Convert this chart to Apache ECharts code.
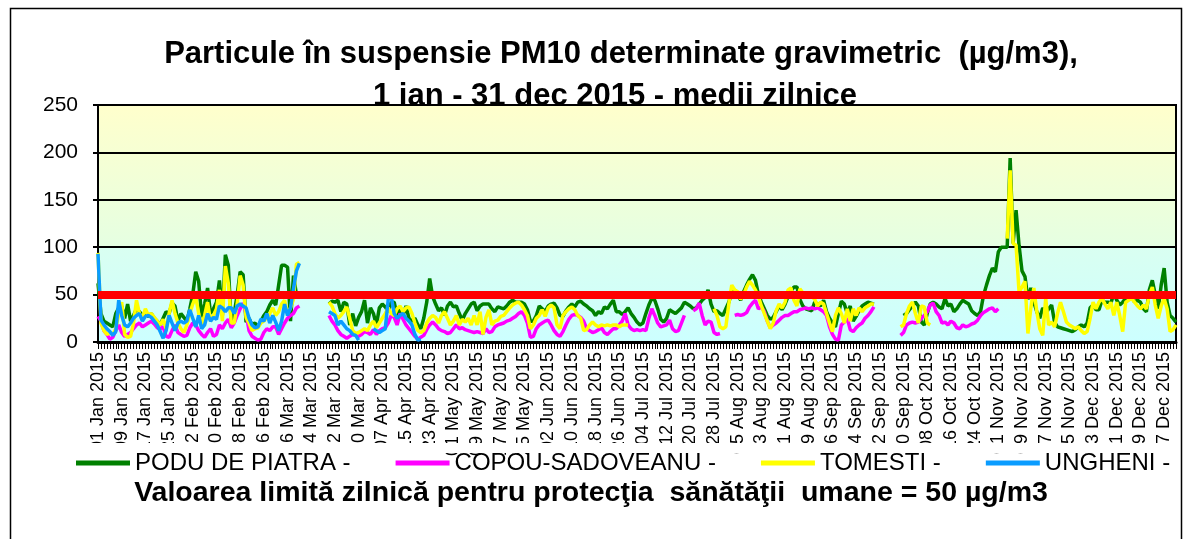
<!DOCTYPE html>
<html>
<head>
<meta charset="utf-8">
<title>PM10 gravimetric 2015</title>
<script src="https://cdn.jsdelivr.net/npm/echarts@6/dist/echarts.min.js"></script>
<style>
  html, body { margin: 0; padding: 0; background: #fff; }
  #main { width: 1192px; height: 539px; }
</style>
</head>
<body>
<div id="main"></div>
<script>
// categorii: zilele anului 2015
var monthNames = ['Jan', 'Feb', 'Mar', 'Apr', 'May', 'Jun', 'Jul', 'Aug', 'Sep', 'Oct', 'Nov', 'Dec']
var monthDays = [31, 28, 31, 30, 31, 30, 31, 31, 30, 31, 30, 31]
var dates = []
monthNames.forEach(function (m, i) {
  for (var d = 1; d <= monthDays[i]; d++) {
    dates.push((d < 10 ? '0' : '') + d + ' ' + m + ' 2015')
  }
})

var seriesNames = ['PODU DE PIATRA -', 'COPOU-SADOVEANU -', 'TOMESTI -', 'UNGHENI -']
var seriesColors = ['#008000', '#ff00ff', '#ffff00', '#0a9cff']
var yTicks = [0, 50, 100, 150, 200, 250]
var limitValue = 50

var titleLines = [
  'Particule în suspensie PM10 determinate gravimetric  (µg/m3),',
  '1 ian - 31 dec 2015 - medii zilnice'
]
var footnote = 'Valoarea limită zilnică pentru protecţia  sănătăţii  umane = 50 µg/m3'

// PODU DE PIATRA
var poduDePiatra = [
  62, 30, 22, 20, 18, 16, 30, 36, 38, 25,
  40, 22, 28, 35, 32, 28, 30, 27, 30, 25,
  22, 18, 25, 32, 30, 41, 38, 22, 30, 26,
  22, 35, 50, 74, 64, 26, 40, 57, 30, 35,
  42, 65, 28, 92, 81, 18, 30, 50, 74, 71,
  21, 25, 18, 20, 16, 22, 28, 32, 39, 44,
  39, 60, 81, 81, 79, 22, 70, 50, null, null,
  null, null, null, null, null, null, null, null, 40, 43,
  42, 44, 32, 42, 40, 18, 30, 17, 26, 32,
  44, 20, 36, 30, 18, 36, 40, 37, 32, 42,
  42, 28, 35, 28, 38, 25, 22, 25, 18, 14,
  25, 42, 67, 48, 40, 33, 36, 28, 38, 42,
  37, 38, 30, 23, 30, 35, 40, 42, 33, 38,
  40, 40, 40, 35, 32, 37, 36, 35, 38, 42,
  44, 42, 42, 42, 40, 34, 22, 22, 28, 38,
  35, 32, 38, 40, 41, 36, 28, 27, 33, 37,
  40, 37, 42, 43, 40, 38, 35, 33, 28, 32,
  30, 37, 35, 40, 44, 32, 32, 29, 32, 36,
  30, 26, 21, 18, 20, 30, 39, 46, 44, 35,
  24, 21, 25, 34, 32, 30, 33, 36, 42, 40,
  38, 35, 36, 40, 44, 47, 55, 40, 32, 33,
  30, 28, 35, 42, 52, 55, 50, 44, 53, 60,
  66, 71, 65, 50, 42, 35, 28, 24, 26, 32,
  38, 34, 40, 48, 54, 58, 58, 45, 38, 35,
  34, 33, 42, 40, 38, 44, 32, 25, 20, 16,
  30, 43, 40, 30, 38, 22, 27, 33, 38, 40,
  42, 41, 40, null, null, null, null, null, null, null,
  null, null, 28, 30, 34, 38, 42, 38, 21, 18,
  30, 40, 42, 40, 37, 35, 46, 38, 40, 32,
  35, 40, 44, 42, 40, 33, 30, 28, 32, 49,
  60, 70, 78, 74, 95, 100, 100, 100, 194, 104,
  139, 102, 75, 69, 45, 57, 42, 32, 25, 36,
  30, 35, 39, 21, 16, 15, 14, 13, 12, 11,
  13, 16, 18, 16, 20, 36, 39, 34, 34, 44,
  42, 42, 41, 51, 44, 39, 42, 46, 46, 51,
  42, 44, 42, 35, 32, 55, 65, 50, 35, 60,
  78, 42, 28, 25, 21
]

// COPOU-SADOVEANU
var copouSadoveanu = [
  27, 22, 12, 8, 3, 5, 12, 18, 10, 6,
  8, 10, 14, 18, 20, 16, 18, 20, 22, 19,
  15, 14, 16, 6, 5, 12, 18, 10, 8, 6,
  7, 15, 20, 18, 12, 8, 5, 10, 14, 6,
  8, 18, 14, 20, 24, 15, 20, 28, 35, 41,
  30, 12, 6, 4, 2, 3, 10, 14, 12, 16,
  16, 8, 14, 20, 25, 28, 30, 36, 38, null,
  null, null, null, null, null, null, null, null, 28, 22,
  18, 12, 8, 6, 4, 6, 8, 7, 6, 8,
  11, 10, 8, 13, 8, 12, 14, 15, 20, 28,
  26, 18, 30, 24, 18, 14, 10, 6, 3, 5,
  7, 13, 18, 21, 18, 14, 12, 11, 9, 10,
  14, 18, 14, 15, 13, 12, 11, 10, 11, 10,
  9, 14, 10, 11, 16, 18, 19, 20, 22, 23,
  25, 27, 30, 32, 28, 20, 5, 6, 14, 18,
  20, 22, 23, 18, 12, 8, 6, 11, 18, 24,
  28, 29, 28, 26, 22, 14, 12, 10, 11, 13,
  15, 10, 8, 11, 14, 14, 18, 22, 30, 18,
  14, 12, 13, 12, 13, 12, 25, 35, 28, 20,
  16, 17, 18, 23, 14, 11, 12, 20, 28, null,
  null, 33, 35, 41, 28, 18, 22, 21, 10, 8,
  9, null, null, null, null, 28, 29, 28, 29, 31,
  37, 41, 44, 35, 37, 32, 22, 15, 18, 20,
  23, 26, 28, 28, 30, 32, 32, 34, 35, 36,
  35, 36, 35, 36, 34, 32, 28, 16, 8, 3,
  2, 18, 21, 25, 13, 11, 15, 18, 20, 25,
  28, 32, 37, null, null, null, null, null, null, null,
  null, 7, 10, 18, 20, 21, 20, 21, 25, 28,
  32, 39, 41, 32, 28, 20, 21, 18, 22, 20,
  15, 14, 18, 16, 17, 19, 20, 23, 28, 31,
  33, 35, 36, 32, 35
]

// TOMESTI
var tomesti = [
  94, 20, 12, 8, 10, 8, 14, 30, 42, 8,
  5, 6, 20, 44, 30, 25, 35, 28, 30, 26,
  22, 18, 24, 14, 30, 44, 30, 20, 14, 10,
  18, 30, 40, 48, 30, 18, 28, 42, 22, 28,
  35, 55, 22, 80, 62, 20, 20, 40, 70, 60,
  26, 20, 12, 14, 15, 20, 22, 26, 30, 36,
  28, 32, 40, 44, 30, 36, 45, 82, 84, null,
  null, null, null, null, null, null, null, null, 42, 38,
  30, 25, 28, 32, 37, 25, 12, 9, 10, 12,
  14, 12, 18, 22, 15, 20, 25, 30, 36, 30,
  28, 35, 38, 32, 36, 37, 30, 20, 12, 10,
  12, 20, 25, 28, 26, 20, 28, 32, 25, 18,
  22, 28, 18, 24, 21, 25, 18, 28, 18, 32,
  8, 26, 34, 18, 22, 23, 27, 28, 32, 36,
  39, 41, 42, 39, 34, 28, 14, 18, 25, 28,
  34, 27, 36, 39, 36, 18, 14, 28, 32, 35,
  37, 34, 28, 25, 12, 13, 18, 21, 18, 16,
  18, 17, 18, 17, 18, 18, 16, 18, 18, 18,
  null, null, null, null, null, null, null, null, null, null,
  null, null, null, null, null, null, null, null, null, null,
  null, null, null, null, null, null, null, null, 35, 28,
  16, 14, 16, 40, 60, 55, 53, 45, 50, 58,
  64, 60, 55, 48, 38, 30, 22, 14, 20, 33,
  40, 36, 42, 55, 57, 44, 38, 56, 52, 50,
  52, 48, 45, 38, 42, 40, 30, 20, 11, 28,
  36, 30, 20, 35, 22, 35, 28, 36, 32, 36,
  38, 40, 40, null, null, null, null, null, null, null,
  null, 16, 18, 30, 38, 42, 30, 20, 38, 37,
  20, 18, null, null, null, null, null, null, null, null,
  null, null, null, null, null, null, null, null, null, null,
  null, null, null, null, null, null, null, 109, 181, 104,
  102, 53, 58, 64, 9, 36, 57, 32, 14, 7,
  46, 18, 21, 16, 30, 42, 32, 21, 18, 16,
  14, 16, 12, 9, 11, 25, 42, 35, 42, 46,
  40, 35, 42, 28, 42, 28, 11, 42, 44, 46,
  42, 38, 35, 39, 35, 50, 58, 39, 25, 38,
  46, 35, 11, 13, 18
]

// UNGHENI (date doar ian - apr)
var ungheni = [
  93, 23, 18, 14, 11, 7, 11, 44, 28, 18,
  16, 20, 25, 28, 30, 22, 27, 28, 26, 22,
  18, 11, 4, 12, 28, 20, 12, 20, 22, 20,
  22, 34, 25, 16, 28, 14, 18, 30, 22, 26,
  24, 38, 36, 32, 36, 36, 30, 38, 40, 38,
  36, 25, 18, 15, 16, 24, 22, 30, 20, 28,
  21, 12, 22, 40, 28, 36, 56, 75, 83, null,
  null, null, null, null, null, null, null, null, 32, 30,
  28, 18, 22, 18, 14, 12, 8, 7, 2, null,
  null, null, null, 14, 12, 10, 12, 14, 45, 48,
  30, 25, 28, 30, 25, 22, 18, 8, 2, 3
]

var seriesData = [poduDePiatra, copouSadoveanu, tomesti, ungheni]
var font = 'Liberation Sans, Arial, sans-serif'

var myChart = echarts.init(document.getElementById('main'))

var lineSeries = seriesData.map(function (arr, i) {
  return {
    name: seriesNames[i],
    type: 'line',
    data: arr,
    z: 3,
    symbol: 'none',
    showSymbol: false,
    connectNulls: false,
    lineStyle: { color: seriesColors[i], width: 3.5 },
    itemStyle: { color: seriesColors[i] },
    emphasis: { disabled: true }
  }
})

myChart.setOption({
  animation: false,
  backgroundColor: '#fff',
  title: [
    {
      text: titleLines[0], left: 621, top: 39, textAlign: 'center', padding: 0, z: 0,
      textStyle: { fontFamily: font, fontSize: 31, fontWeight: 'bold', color: '#000', lineHeight: 31 }
    },
    {
      text: titleLines[1], left: 615, top: 81, textAlign: 'center', padding: 0, z: 0,
      textStyle: { fontFamily: font, fontSize: 31, fontWeight: 'bold', color: '#000', lineHeight: 31 }
    },
    {
      text: footnote, left: 591, top: 479, textAlign: 'center', padding: 0,
      textStyle: { fontFamily: font, fontSize: 28.5, fontWeight: 'bold', color: '#000', lineHeight: 29 }
    }
  ],
  legend: {
    data: seriesNames,
    left: 76,
    top: 451,
    padding: 0,
    icon: 'rect',
    itemWidth: 54,
    itemHeight: 5,
    itemGap: 45,
    selectedMode: false,
    textStyle: { fontFamily: font, fontSize: 24, color: '#000' }
  },
  grid: {
    left: 98, right: 16, top: 105, bottom: 197,
    show: true, z: 2,
    borderColor: '#000', borderWidth: 2,
    backgroundColor: 'transparent'
  },
  xAxis: {
    type: 'category',
    data: dates,
    boundaryGap: false,
    z: 2,
    axisLine: { lineStyle: { color: '#000', width: 3 } },
    axisTick: { interval: 0, length: 7, lineStyle: { color: '#000', width: 1 } },
    axisLabel: {
      interval: 7, rotate: 90, margin: 10,
      fontFamily: font, fontSize: 18, color: '#000'
    },
    splitLine: { show: false }
  },
  yAxis: {
    type: 'value',
    min: yTicks[0],
    max: yTicks[yTicks.length - 1],
    interval: 50,
    z: 2,
    axisLine: { show: true, lineStyle: { color: '#000', width: 2 } },
    axisTick: { show: true, length: 5, lineStyle: { color: '#000', width: 2 } },
    axisLabel: { margin: 20, fontFamily: font, fontSize: 21, color: '#000' },
    splitLine: { show: true, lineStyle: { color: '#000', width: 2 } }
  },
  graphic: [
    // eticheta axei X e taiata jos, ca in original
    {
      type: 'rect', z: 100, silent: true,
      shape: { x: 40, y: 443, width: 1145, height: 10 },
      style: { fill: '#fff' }
    },
    {
      type: 'rect', z: 100, silent: true,
      shape: { x: 10.5, y: 8.5, width: 1171, height: 600 },
      style: { fill: 'none', stroke: '#000', lineWidth: 1.5 }
    }
  ],
  series: [
    {
      name: 'fundal',
      type: 'line',
      data: [],
      z: 1,
      silent: true,
      markArea: {
        silent: true,
        data: [
          [{
            yAxis: 0,
            itemStyle: {
              color: new echarts.graphic.LinearGradient(0, 0, 0, 1, [
                { offset: 0, color: '#d9fff1' },
                { offset: 1, color: '#ccffff' }
              ])
            }
          }, { yAxis: 100 }],
          [{
            yAxis: 100,
            itemStyle: {
              color: new echarts.graphic.LinearGradient(0, 0, 0, 1, [
                { offset: 0, color: '#ffffcc' },
                { offset: 1, color: '#e5ffe2' }
              ])
            }
          }, { yAxis: 250 }]
        ]
      }
    }
  ].concat(lineSeries).concat([
    {
      name: 'limita',
      type: 'line',
      data: [],
      z: 5,
      silent: true,
      markLine: {
        silent: true,
        symbol: ['none', 'none'],
        label: { show: false },
        lineStyle: { color: '#ff0000', width: 8, type: 'solid' },
        data: [{ yAxis: limitValue }]
      }
    }
  ])
})
</script>
</body>
</html>
